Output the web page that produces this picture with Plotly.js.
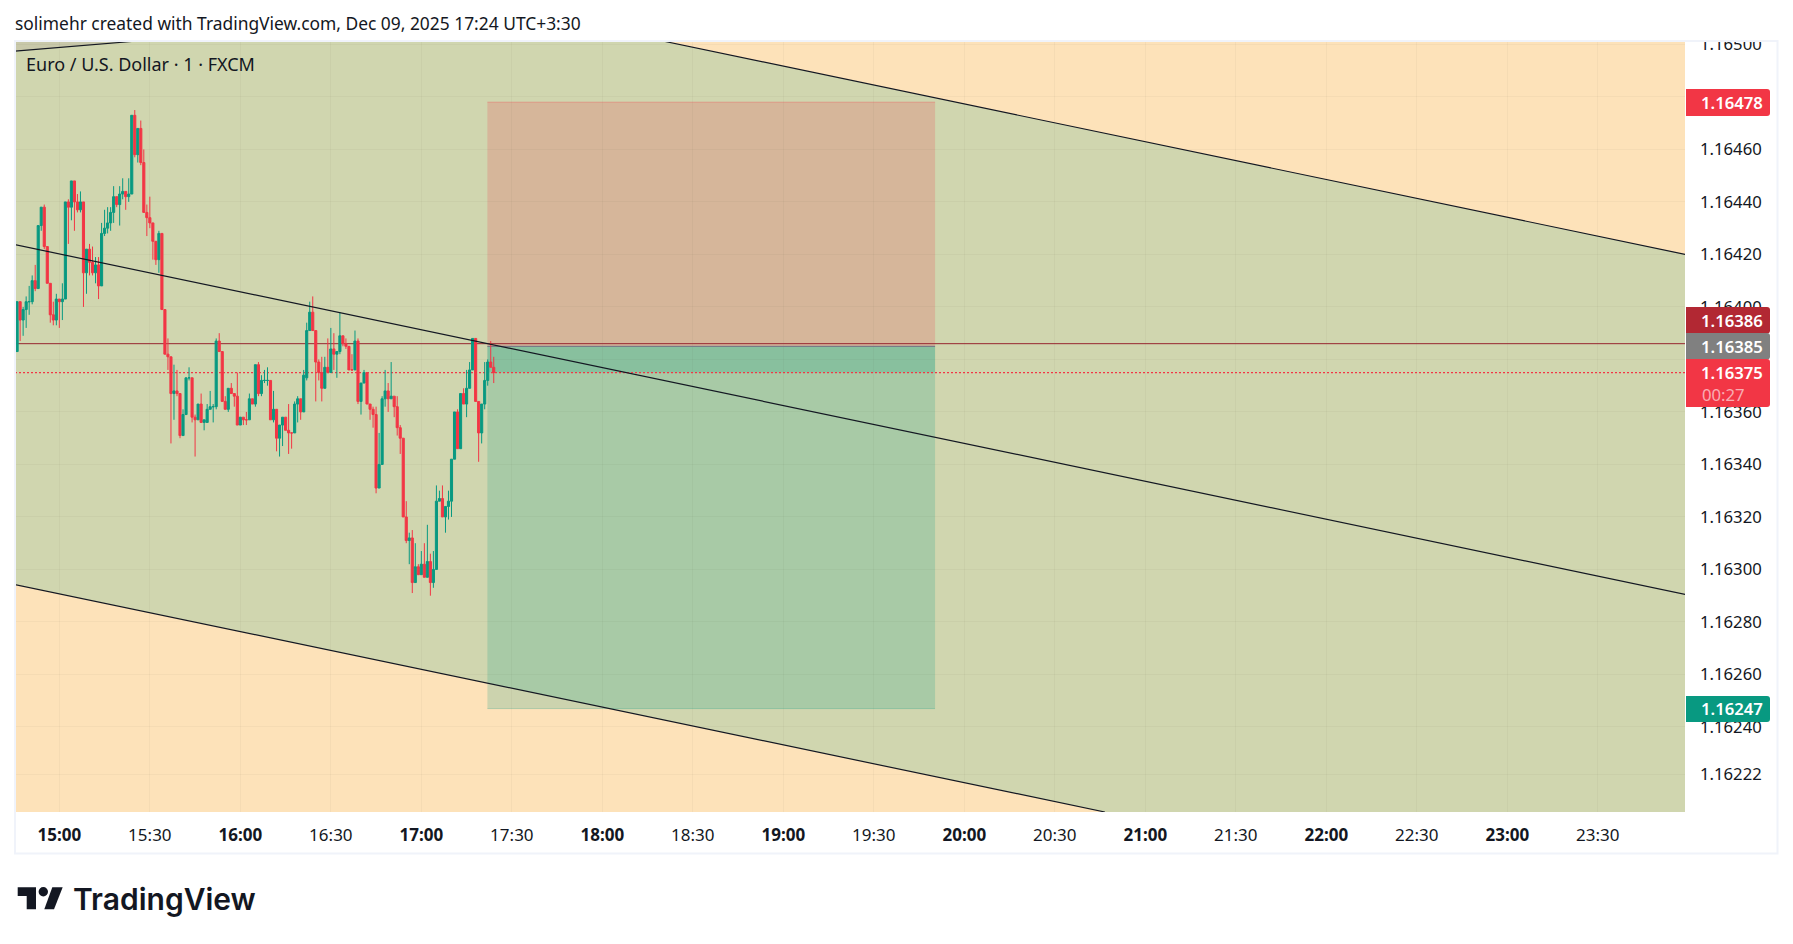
<!DOCTYPE html>
<html><head><meta charset="utf-8">
<script src="https://cdn.plot.ly/plotly-3.0.1.min.js"></script>
<style>html,body{margin:0;padding:0;background:#fff}#chart{width:1793px;height:944px}</style>
</head><body><div id="chart"></div>
<script>
// ---- candle values (1-minute EUR/USD, first candle at 14:45) ----
const firstCandle = Date.UTC(2025,11,9,14,45);
const openP = [1.16383,1.16383,1.16402,1.16395,1.16399,1.16402,1.16402,1.16410,1.16407,1.16431,1.16438,1.16423,1.16409,1.16397,1.16395,1.16403,1.16402,1.16403,1.16440,1.16438,1.16448,1.16440,1.16437,1.16440,1.16413,1.16422,1.16417,1.16413,1.16416,1.16408,1.16428,1.16430,1.16432,1.16436,1.16442,1.16439,1.16443,1.16444,1.16442,1.16443,1.16473,1.16458,1.16468,1.16455,1.16436,1.16434,1.16432,1.16425,1.16418,1.16428,1.16399,1.16382,1.16381,1.16367,1.16368,1.16367,1.16351,1.16359,1.16373,1.16373,1.16358,1.16357,1.16363,1.16356,1.16356,1.16361,1.16362,1.16362,1.16387,1.16383,1.16364,1.16361,1.16369,1.16367,1.16366,1.16355,1.16358,1.16357,1.16357,1.16365,1.16363,1.16378,1.16367,1.16372,1.16372,1.16372,1.16357,1.16361,1.16350,1.16355,1.16358,1.16353,1.16352,1.16352,1.16363,1.16365,1.16360,1.16373,1.16391,1.16398,1.16391,1.16379,1.16375,1.16369,1.16377,1.16375,1.16384,1.16382,1.16383,1.16389,1.16386,1.16385,1.16376,1.16376,1.16387,1.16364,1.16371,1.16375,1.16363,1.16361,1.16359,1.16331,1.16340,1.16365,1.16368,1.16365,1.16366,1.16362,1.16354,1.16350,1.16320,1.16311,1.16312,1.16295,1.16301,1.16298,1.16302,1.16297,1.16303,1.16295,1.16300,1.16326,1.16327,1.16320,1.16324,1.16326,1.16342,1.16360,1.16346,1.16367,1.16363,1.16369,1.16376,1.16388,1.16364,1.16352,1.16363,1.16372,1.16379,1.16377];
const highP = [1.16390,1.16402,1.16402,1.16400,1.16404,1.16408,1.16412,1.16416,1.16431,1.16438,1.16439,1.16423,1.16409,1.16402,1.16405,1.16403,1.16409,1.16440,1.16441,1.16448,1.16448,1.16443,1.16444,1.16440,1.16422,1.16424,1.16423,1.16419,1.16419,1.16432,1.16437,1.16438,1.16438,1.16446,1.16442,1.16446,1.16449,1.16444,1.16449,1.16473,1.16475,1.16468,1.16471,1.16460,1.16439,1.16442,1.16432,1.16425,1.16429,1.16428,1.16399,1.16388,1.16381,1.16378,1.16376,1.16367,1.16361,1.16373,1.16377,1.16373,1.16359,1.16363,1.16367,1.16357,1.16363,1.16368,1.16363,1.16388,1.16390,1.16383,1.16366,1.16369,1.16371,1.16367,1.16375,1.16358,1.16358,1.16360,1.16367,1.16365,1.16378,1.16379,1.16374,1.16376,1.16377,1.16372,1.16368,1.16361,1.16355,1.16358,1.16358,1.16363,1.16352,1.16364,1.16366,1.16365,1.16376,1.16394,1.16402,1.16404,1.16391,1.16380,1.16381,1.16381,1.16388,1.16392,1.16390,1.16383,1.16398,1.16389,1.16388,1.16385,1.16382,1.16391,1.16388,1.16371,1.16376,1.16375,1.16363,1.16362,1.16362,1.16352,1.16366,1.16376,1.16371,1.16379,1.16366,1.16366,1.16355,1.16350,1.16326,1.16314,1.16315,1.16310,1.16302,1.16307,1.16310,1.16317,1.16306,1.16307,1.16332,1.16330,1.16332,1.16324,1.16330,1.16342,1.16360,1.16361,1.16367,1.16369,1.16376,1.16379,1.16388,1.16388,1.16364,1.16363,1.16379,1.16380,1.16387,1.16381];
const lowP = [1.16383,1.16383,1.16387,1.16389,1.16392,1.16397,1.16401,1.16406,1.16407,1.16429,1.16422,1.16409,1.16394,1.16393,1.16393,1.16392,1.16395,1.16403,1.16424,1.16433,1.16429,1.16436,1.16436,1.16400,1.16405,1.16412,1.16412,1.16409,1.16403,1.16408,1.16427,1.16428,1.16429,1.16432,1.16438,1.16431,1.16441,1.16437,1.16440,1.16443,1.16457,1.16455,1.16454,1.16436,1.16427,1.16430,1.16418,1.16416,1.16413,1.16399,1.16382,1.16376,1.16348,1.16357,1.16366,1.16350,1.16351,1.16359,1.16372,1.16356,1.16343,1.16357,1.16356,1.16353,1.16356,1.16361,1.16356,1.16361,1.16383,1.16364,1.16361,1.16360,1.16367,1.16362,1.16355,1.16355,1.16355,1.16355,1.16357,1.16363,1.16362,1.16366,1.16366,1.16371,1.16370,1.16357,1.16356,1.16345,1.16343,1.16347,1.16353,1.16344,1.16346,1.16352,1.16356,1.16357,1.16360,1.16372,1.16391,1.16391,1.16364,1.16372,1.16364,1.16369,1.16375,1.16375,1.16376,1.16373,1.16382,1.16385,1.16384,1.16376,1.16376,1.16376,1.16363,1.16359,1.16371,1.16363,1.16357,1.16354,1.16329,1.16331,1.16340,1.16362,1.16360,1.16365,1.16358,1.16351,1.16344,1.16320,1.16310,1.16302,1.16291,1.16295,1.16298,1.16298,1.16297,1.16297,1.16290,1.16293,1.16300,1.16326,1.16320,1.16314,1.16319,1.16320,1.16342,1.16346,1.16346,1.16363,1.16358,1.16369,1.16376,1.16364,1.16341,1.16348,1.16361,1.16370,1.16377,1.16371];
const closeP = [1.16390,1.16402,1.16395,1.16399,1.16402,1.16402,1.16410,1.16407,1.16431,1.16438,1.16423,1.16409,1.16397,1.16395,1.16403,1.16402,1.16403,1.16440,1.16438,1.16448,1.16440,1.16437,1.16440,1.16413,1.16422,1.16417,1.16413,1.16416,1.16408,1.16428,1.16430,1.16432,1.16436,1.16442,1.16439,1.16443,1.16444,1.16442,1.16443,1.16473,1.16458,1.16468,1.16455,1.16436,1.16434,1.16432,1.16425,1.16418,1.16428,1.16399,1.16382,1.16381,1.16367,1.16368,1.16367,1.16351,1.16359,1.16373,1.16373,1.16358,1.16357,1.16363,1.16356,1.16357,1.16361,1.16362,1.16362,1.16387,1.16383,1.16364,1.16361,1.16369,1.16367,1.16366,1.16355,1.16358,1.16357,1.16357,1.16365,1.16363,1.16378,1.16367,1.16372,1.16372,1.16372,1.16357,1.16361,1.16350,1.16355,1.16358,1.16353,1.16352,1.16352,1.16363,1.16365,1.16360,1.16374,1.16391,1.16398,1.16391,1.16379,1.16375,1.16369,1.16377,1.16375,1.16384,1.16382,1.16383,1.16389,1.16386,1.16385,1.16376,1.16376,1.16387,1.16364,1.16371,1.16375,1.16363,1.16361,1.16359,1.16331,1.16340,1.16365,1.16368,1.16365,1.16366,1.16362,1.16354,1.16350,1.16320,1.16311,1.16312,1.16295,1.16301,1.16298,1.16302,1.16297,1.16303,1.16295,1.16300,1.16326,1.16327,1.16320,1.16324,1.16326,1.16342,1.16360,1.16346,1.16367,1.16363,1.16369,1.16376,1.16388,1.16364,1.16352,1.16363,1.16372,1.16379,1.16377,1.16375];

// ---- axes ----
const xRange = ['2025-12-09 14:45:18','2025-12-09 23:58:54'];
const yRange = [1.162076,1.165013];
const xTickVals = ['15:00','15:30','16:00','16:30','17:00','17:30','18:00','18:30','19:00','19:30','20:00','20:30','21:00','21:30','22:00','22:30','23:00','23:30'];
const yTickVals = [1.165,1.1648,1.1646,1.1644,1.1642,1.164,1.1638,1.1636,1.1634,1.1632,1.163,1.1628,1.1626,1.1624,1.16222];
const yTickText = ['1.16500','1.16480','1.16460','1.16440','1.16420','1.16400','1.16380','1.16360','1.16340','1.16320','1.16300','1.16280','1.16260','1.16240','1.16222'];

// ---- price levels and drawing tools ----
const stopPrice = 1.16478, entryPrice = 1.16385, targetPrice = 1.16247, lastPrice = 1.16375, highLevel = 1.16386;
const toolStart = '2025-12-09 17:21:54', toolEnd = '2025-12-09 19:50:18';
const channelTopX = ['2025-12-09 18:20','2025-12-09 23:59'], channelTopY = [1.165013,1.16420];
const channelMidX = ['2025-12-09 14:45','2025-12-09 23:59'], channelMidY = [1.164238,1.162905];
const channelLowX = ['2025-12-09 14:45','2025-12-09 20:46:36'], channelLowY = [1.162943,1.162076];
const fanTopX = ['2025-12-09 14:45','2025-12-09 15:26'], fanTopY = [1.164974,1.165013];

// ---- styles ----
const UP='#089981', DOWN='#f23645';
const FONT='"Noto Sans", sans-serif';
const TICK_SIZE=16.7;
const W=1793,H=944,L=15,R=1685,T=41,B=812;
const px=x=>(x-L)/(R-L), py=y=>(B-y)/(B-T);
const dp=s=>s.replace(' ','_');
const day='2025-12-09 ';
function poly(xs,ys){return 'M'+xs.map((x,i)=>dp(x)+','+ys[i]).join(' L')+' Z';}
function tagPath(x0,y0,x1,y1,r){
  return `M${px(x0)},${py(y0)} L${px(x1-r)},${py(y0)} Q${px(x1)},${py(y0)} ${px(x1)},${py(y0+r)} L${px(x1)},${py(y1-r)} Q${px(x1)},${py(y1)} ${px(x1-r)},${py(y1)} L${px(x0)},${py(y1)} Z`;
}
function tag(y0,y1,color){return {type:'path',xref:'paper',yref:'paper',layer:'above',path:tagPath(1686,y0,1770,y1,3),fillcolor:color,line:{width:0}};}
function txt(x,y,t,size,color,anchor,weight){return {xref:'paper',yref:'paper',x:px(x),y:py(y),text:t,showarrow:false,xanchor:anchor||'left',yanchor:'middle',borderpad:0,borderwidth:0,font:{family:FONT,size:size,color:color,weight:weight||400}};}

const times=openP.map((_,i)=>new Date(firstCandle+i*60000).toISOString().slice(0,19).replace('T',' '));

const candle={type:'candlestick',x:times,open:openP,high:highP,low:lowP,close:closeP,whiskerwidth:0,
  increasing:{line:{color:UP,width:1},fillcolor:UP},decreasing:{line:{color:DOWN,width:1},fillcolor:DOWN},hoverinfo:'skip',showlegend:false};
const lineTrace=(x,y)=>({type:'scatter',mode:'lines',x:x,y:y,line:{color:'#131722',width:1.2},hoverinfo:'skip',showlegend:false});

const shapes=[
 {type:'path',layer:'below',xref:'x',yref:'y',path:poly(
   [channelLowX[0],channelLowX[1],channelTopX[1],channelTopX[1],channelTopX[0],channelLowX[0]],
   [channelLowY[0],channelLowY[1],yRange[0],channelTopY[1],channelTopY[0],yRange[1]]),fillcolor:'#d0d6af',line:{width:0}},
 {type:'path',layer:'below',xref:'x',yref:'y',path:poly(
   [fanTopX[0],fanTopX[1],fanTopX[0]],[fanTopY[0],fanTopY[1],yRange[1]]),fillcolor:'#c8c8aa',line:{width:0}},
 {type:'rect',layer:'below',xref:'x',yref:'y',x0:toolStart,x1:toolEnd,y0:entryPrice,y1:stopPrice,fillcolor:'rgba(242,54,69,0.2)',line:{width:0}},
 {type:'rect',layer:'below',xref:'x',yref:'y',x0:toolStart,x1:toolEnd,y0:targetPrice,y1:entryPrice,fillcolor:'rgba(8,153,129,0.2)',line:{width:0}},
 {type:'rect',layer:'below',xref:'x',yref:'y',x0:toolStart,x1:toolEnd,y0:lastPrice,y1:entryPrice,fillcolor:'rgba(8,153,129,0.2)',line:{width:0}},
 {type:'line',layer:'between',xref:'x',yref:'y',x0:toolStart,x1:toolEnd,y0:stopPrice,y1:stopPrice,line:{color:'rgba(242,54,69,0.3)',width:1}},
 {type:'line',layer:'between',xref:'x',yref:'y',x0:toolStart,x1:toolEnd,y0:targetPrice,y1:targetPrice,line:{color:'rgba(8,153,129,0.25)',width:1}},
 {type:'line',layer:'between',xref:'x',yref:'y',x0:toolStart,x1:toolEnd,y0:entryPrice,y1:entryPrice,line:{color:'#787b86',width:1.2}},
 {type:'line',layer:'between',xref:'x',yref:'y',x0:xRange[0],x1:xRange[1],y0:highLevel,y1:highLevel,line:{color:'#962630',width:1}},
 {type:'line',layer:'between',xref:'x',yref:'y',x0:xRange[0],x1:xRange[1],y0:lastPrice,y1:lastPrice,line:{color:DOWN,width:1.2,dash:'2px,2px'}},
 {type:'rect',layer:'above',xref:'paper',yref:'paper',x0:px(1686),x1:px(1779),y0:py(0),y1:py(40),fillcolor:'#fff',line:{width:0}},
 {type:'rect',layer:'above',xref:'paper',yref:'paper',x0:px(15),x1:px(1777.5),y0:py(853.5),y1:py(41),line:{color:'#f0f3fa',width:2}},
 tag(89,116,DOWN),
 tag(307,333.5,'#b22833'),
 tag(333,359.5,'#808080'),
 tag(359,407,DOWN),
 tag(696,722,UP),
 {type:'path',layer:'above',xref:'paper',yref:'paper',fillcolor:'#131722',line:{width:0},
  path:`M${px(17.7)},${py(887.3)} L${px(36)},${py(887.3)} L${px(36)},${py(909.3)} L${px(26.7)},${py(909.3)} L${px(26.7)},${py(896)} L${px(17.7)},${py(896)} Z`},
 {type:'circle',layer:'above',xref:'paper',yref:'paper',x0:px(38.6),x1:px(48),y0:py(896.4),y1:py(887),fillcolor:'#131722',line:{width:0}},
 {type:'path',layer:'above',xref:'paper',yref:'paper',fillcolor:'#131722',line:{width:0},
  path:`M${px(52.3)},${py(887.3)} L${px(62.7)},${py(887.3)} L${px(54)},${py(909.3)} L${px(44.3)},${py(909.3)} Z`}
];

const annotations=[
 txt(15,23,'solimehr created with TradingView.com, Dec 09, 2025 17:24 UTC+3:30',17.4,'#131722'),
 txt(26,64,'Euro / U.S. Dollar · 1 · FXCM',18,'#131722'),
 txt(1763,102.5,'1.16478',TICK_SIZE,'#fff','right',600),
 txt(1763,320.5,'1.16386',TICK_SIZE,'#fff','right',600),
 txt(1763,346,'1.16385',TICK_SIZE,'#fff','right',600),
 txt(1763,372.5,'1.16375',TICK_SIZE,'#fff','right',600),
 txt(1745,394,'00:27',TICK_SIZE,'rgba(255,255,255,0.6)','right'),
 txt(1763,708.5,'1.16247',TICK_SIZE,'#fff','right',600),
 txt(73,899,'TradingView',30,'#131722','left',600)
];
annotations[8].font.family='Inter, sans-serif';

const layout={width:W,height:H,paper_bgcolor:'#fff',plot_bgcolor:'#fde2b9',showlegend:false,hovermode:false,dragmode:false,boxgap:0,
 margin:{l:L,r:W-R,t:T,b:H-B,pad:0,autoexpand:false},font:{family:FONT,color:'#131722',size:16},
 xaxis:{type:'date',range:xRange,rangeslider:{visible:false},tickmode:'array',tickvals:xTickVals.map(t=>day+t),
   ticktext:xTickVals.map(t=>t.endsWith(':00')?'<b>'+t+'</b>':t),tickangle:0,showgrid:true,gridcolor:'rgba(60,60,50,0.045)',gridwidth:1,zeroline:false,showline:false,ticks:'',ticklabelstandoff:11,tickfont:{family:FONT,size:17,color:'#131722'}},
 yaxis:{side:'right',range:yRange,tickmode:'array',tickvals:yTickVals,ticktext:yTickText,showgrid:true,gridcolor:'rgba(60,60,50,0.045)',gridwidth:1,zeroline:false,showline:false,ticks:'',ticklabelstandoff:14,tickfont:{family:FONT,size:TICK_SIZE,color:'#131722'}},
 shapes:shapes,annotations:annotations};

Plotly.newPlot('chart',[candle,lineTrace(channelTopX,channelTopY),lineTrace(channelMidX,channelMidY),lineTrace(channelLowX,channelLowY),lineTrace(fanTopX,fanTopY)],layout,{displayModeBar:false,staticPlot:true});
</script></body></html>
